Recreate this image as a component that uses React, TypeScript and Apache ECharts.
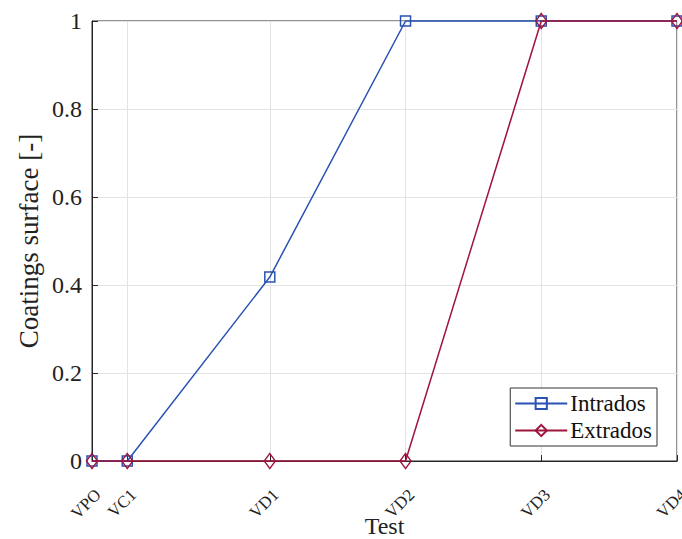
import React, { useEffect, useRef } from "react";
import * as echarts from "echarts";

const testNames = ["VPO", "VC1", "VD1", "VD2", "VD3", "VD4"];
const testPositions = [0, 0.26, 1.31, 2.31, 3.31, 4.31];
const intrados = [0, 0, 0.418, 1, 1, 1];
const extrados = [0, 0, 0, 0, 1, 1];
const yTicks = [0, 0.2, 0.4, 0.6, 0.8, 1];

const FONT = "Liberation Serif";
const BLUE = "#2a52b3";
const RED = "#a0153c";

export default function App() {
  const ref = useRef<HTMLDivElement>(null);
  useEffect(() => {
    const chart = echarts.init(ref.current!, null, { renderer: "svg" });
    const nameOf = (v: number) => {
      const i = testPositions.findIndex((p) => Math.abs(p - v) < 1e-6);
      return i >= 0 ? testNames[i] : "";
    };
    chart.setOption({
      animation: false,
      backgroundColor: "#ffffff",
      textStyle: { fontFamily: FONT },
      grid: {
        left: 92,
        right: 5,
        top: 21,
        bottom: 78,
        outerBoundsMode: "none",
        containLabel: false,
        show: true,
        borderColor: "#262626",
        borderWidth: 1,
        backgroundColor: "transparent",
      },
      legend: {
        right: 25,
        top: 388,
        orient: "vertical",
        itemWidth: 52,
        itemHeight: 14,
        itemGap: 4,
        padding: [4, 5, 4, 4],
        borderColor: "#333",
        borderWidth: 1,
        borderRadius: 0,
        backgroundColor: "#fff",
        textStyle: { fontFamily: FONT, fontSize: 23, color: "#111", padding: [0, 0, 0, -2] },
        data: ["Intrados", "Extrados"],
      },
      xAxis: {
        type: "value",
        min: testPositions[0],
        max: testPositions[testPositions.length - 1],
        name: "Test",
        nameLocation: "middle",
        nameGap: 53,
        nameMoveOverlap: false,
        nameTextStyle: { fontFamily: FONT, fontSize: 24, color: "#222", verticalAlign: "top", lineHeight: 24 },
        axisLine: { show: true, lineStyle: { color: "#262626" } },
        axisTick: { show: true, inside: true, length: 6, customValues: testPositions, lineStyle: { color: "#262626" } },
        axisLabel: {
          customValues: testPositions,
          formatter: (v: number) => nameOf(v),
          rotate: 45,
          fontFamily: FONT,
          fontSize: 17,
          color: "#222",
          margin: 25,
          align: "right",
          verticalAlign: "top",
          hideOverlap: false,
        },
        splitLine: { show: true, lineStyle: { color: "#e3e3e3" } },
      },
      yAxis: {
        type: "value",
        min: 0,
        max: 1,
        interval: 0.2,
        name: "Coatings surface [-]",
        nameLocation: "middle",
        nameGap: 50,
        nameMoveOverlap: false,
        nameTextStyle: { fontFamily: FONT, fontSize: 27, color: "#222" },
        axisLine: { show: true, lineStyle: { color: "#262626" } },
        axisTick: { show: true, inside: true, length: 6, lineStyle: { color: "#262626" } },
        axisLabel: { fontFamily: FONT, fontSize: 24, color: "#222", margin: 10, customValues: yTicks },
        splitLine: { show: true, lineStyle: { color: "#e3e3e3" } },
      },
      series: [
        {
          name: "Intrados",
          type: "line",
          data: testPositions.map((x, i) => [x, intrados[i]]),
          symbol: "rect",
          symbolSize: 10,
          showAllSymbol: true,
          lineStyle: { color: BLUE, width: 1.5 },
          itemStyle: { color: "rgba(255,255,255,0)", borderColor: BLUE, borderWidth: 1.5 },
          color: BLUE,
          clip: false,
          z: 3,
        },
        {
          name: "Extrados",
          type: "line",
          data: testPositions.map((x, i) => [x, extrados[i]]),
          symbol: "diamond",
          symbolSize: [11, 15],
          showAllSymbol: true,
          lineStyle: { color: RED, width: 1.5 },
          itemStyle: { color: "rgba(255,255,255,0)", borderColor: RED, borderWidth: 1.5 },
          color: RED,
          clip: false,
          z: 4,
        },
      ],
    });
    return () => chart.dispose();
  }, []);
  return <div ref={ref} style={{ width: 682, height: 539, position: "absolute", left: 0, top: 0 }} />;
}
